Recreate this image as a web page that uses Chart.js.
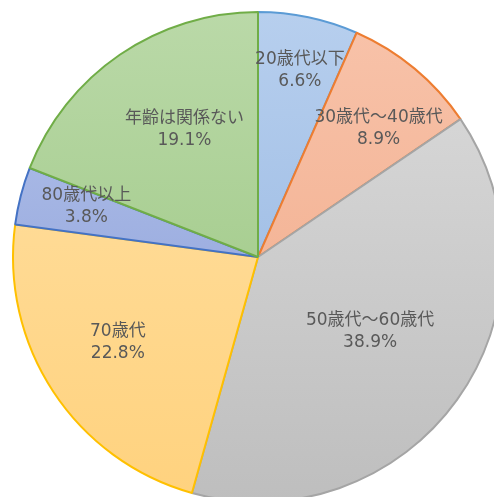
<!DOCTYPE html>
<html>
<head>
<meta charset="utf-8">
<script src="https://cdn.jsdelivr.net/npm/chart.js@4/dist/chart.umd.min.js"></script>
<style>
  html, body { margin: 0; padding: 0; overflow: hidden; background: #fff; }
  #wrap { position: absolute; left: 0; top: 0; width: 516px; height: 514px; }
</style>
</head>
<body>
<div id="wrap"><canvas id="ageChart" width="516" height="514"></canvas></div>
<script>
// 年代別の割合 (%)
var ageLabels = ['20歳代以下', '30歳代～40歳代', '50歳代～60歳代', '70歳代', '80歳代以上', '年齢は関係ない'];
var ageValues = [6.6, 8.9, 38.9, 22.8, 3.8, 19.1];

// fill gradient (top -> bottom) and border colour for each slice
var lightColors = ['#B7CFEE', '#F8C3AA', '#DCDCDC', '#FFE1A6', '#B7C5EC', '#BAD9A8'];
var darkColors  = ['#90B2DF', '#F0A886', '#BEBEBE', '#FFD27E', '#8499D5', '#97C47C'];
var borderColors = ['#5B9BD5', '#ED7D31', '#A5A5A5', '#FFC000', '#4472C4', '#70AD47'];
// label placement: fraction of radius, and angle nudge in degrees
var labelRadius = [0.78, 0.72, 0.55, 0.67, 0.73, 0.6];
var labelNudge = [0.8, 3.4, -2, 2, 1.8, 4.3];

document.addEventListener('DOMContentLoaded', function () {
    var ctx = document.getElementById('ageChart').getContext('2d');

    function sliceFill(context) {
        var chart = context.chart;
        var area = chart.chartArea;
        if (!area) return lightColors[context.dataIndex];
        var cy = (area.top + area.bottom) / 2;
        var g = chart.ctx.createLinearGradient(0, cy - 245, 0, cy + 245);
        g.addColorStop(0, lightColors[context.dataIndex]);
        g.addColorStop(1, darkColors[context.dataIndex]);
        return g;
    }

    // draws "name / value%" inside each slice
    var sliceLabels = {
        id: 'sliceLabels',
        afterDatasetsDraw: function (chart) {
            var c = chart.ctx;
            var meta = chart.getDatasetMeta(0);
            c.save();
            c.fillStyle = '#595959';
            c.font = '17px "DejaVu Sans", "Noto Sans CJK JP", sans-serif';
            c.textAlign = 'center';
            c.textBaseline = 'middle';
            meta.data.forEach(function (arc, i) {
                var p = arc.getProps(['x', 'y', 'startAngle', 'endAngle', 'outerRadius'], true);
                var mid = (p.startAngle + p.endAngle) / 2 + labelNudge[i] * Math.PI / 180;
                var r = p.outerRadius * labelRadius[i];
                var x = p.x + Math.cos(mid) * r;
                var y = p.y + Math.sin(mid) * r;
                c.fillText(ageLabels[i], x, y - 11);
                c.fillText(ageValues[i].toFixed(1) + '%', x, y + 11);
            });
            c.restore();
        }
    };

    new Chart(ctx, {
        type: 'pie',
        data: {
            labels: ageLabels,
            datasets: [{
                data: ageValues,
                backgroundColor: sliceFill,
                borderColor: borderColors,
                borderWidth: 2
            }]
        },
        options: {
            responsive: false,
            animation: false,
            radius: 245,
            layout: { padding: 0 },
            plugins: {
                legend: { display: false },
                tooltip: { enabled: false }
            }
        },
        plugins: [sliceLabels]
    });
});
</script>
</body>
</html>
